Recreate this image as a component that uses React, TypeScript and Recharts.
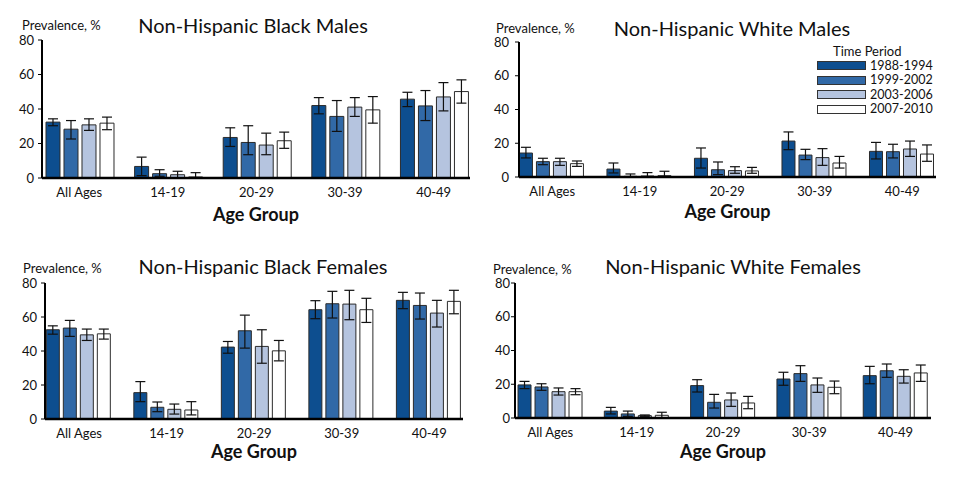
import React from 'react';
import { BarChart, Bar, XAxis, YAxis, ErrorBar, Legend } from 'recharts';

const ageGroups = ['All Ages', '14-19', '20-29', '30-39', '40-49'];
const periods = ['1988-1994', '1999-2002', '2003-2006', '2007-2010'];
const periodColors = ['#0d4e8f', '#3169a7', '#b5c4df', '#ffffff'];
const yTicks = [0, 20, 40, 60, 80];

// Non-Hispanic Black Males (rows = periods, columns = age groups)
const blackMalesValue = [
  [32.4, 6.7, 23.5, 42.0, 45.7],
  [28.3, 2.5, 20.6, 35.7, 41.8],
  [30.8, 1.9, 19.1, 41.1, 47.0],
  [31.8, 0.6, 21.6, 39.5, 50.1],
];
const blackMalesLow = [
  [30.3, 1.4, 18.3, 37.2, 41.4],
  [22.6, 1.0, 13.5, 27.0, 33.3],
  [27.6, 0.0, 13.5, 35.7, 38.9],
  [28.0, 0.0, 17.2, 31.8, 43.4],
];
const blackMalesHigh = [
  [34.3, 12.1, 29.1, 46.6, 49.7],
  [33.3, 4.8, 30.3, 44.9, 50.7],
  [34.3, 3.9, 26.0, 46.6, 55.3],
  [35.3, 3.1, 26.6, 47.2, 56.9],
];

// Non-Hispanic White Males
const whiteMalesValue = [
  [14.2, 4.7, 11.1, 21.3, 15.2],
  [9.1, 0.4, 4.3, 13.0, 15.0],
  [9.1, 0.6, 3.8, 11.5, 16.6],
  [7.9, 0.8, 3.6, 8.3, 13.6],
];
const whiteMalesLow = [
  [11.3, 2.4, 5.3, 16.2, 10.7],
  [7.3, 0.0, 1.4, 10.3, 11.3],
  [6.9, 0.0, 2.2, 6.9, 12.2],
  [6.3, 0.0, 2.2, 5.3, 9.3],
];
const whiteMalesHigh = [
  [17.6, 8.3, 17.2, 26.7, 20.5],
  [11.1, 1.8, 8.9, 16.4, 19.4],
  [11.1, 2.6, 6.1, 16.8, 21.3],
  [9.5, 3.4, 5.7, 12.2, 19.0],
];

// Non-Hispanic Black Females
const blackFemalesValue = [
  [52.5, 15.5, 42.3, 64.3, 69.8],
  [53.5, 6.9, 51.9, 67.8, 66.8],
  [49.5, 5.7, 42.7, 67.6, 62.3],
  [50.1, 5.3, 40.1, 64.3, 69.2],
];
const blackFemalesLow = [
  [49.9, 10.2, 38.7, 59.0, 64.9],
  [48.6, 4.3, 41.7, 59.4, 58.8],
  [46.2, 2.9, 32.8, 58.4, 54.1],
  [47.0, 2.4, 34.2, 56.8, 61.9],
];
const blackFemalesHigh = [
  [54.8, 22.0, 45.6, 69.6, 74.5],
  [58.0, 10.0, 61.1, 75.1, 74.1],
  [52.9, 8.8, 52.5, 75.7, 69.8],
  [52.9, 10.2, 46.2, 71.0, 75.7],
];

// Non-Hispanic White Females
const whiteFemalesValue = [
  [19.6, 4.1, 19.2, 23.1, 25.1],
  [18.4, 2.4, 9.3, 26.3, 28.0],
  [15.6, 1.4, 10.7, 19.6, 24.7],
  [15.6, 1.6, 8.9, 18.2, 26.7],
];
const whiteFemalesLow = [
  [17.4, 2.4, 15.4, 19.4, 20.3],
  [16.4, 1.0, 5.9, 21.7, 24.1],
  [13.6, 1.0, 6.9, 15.2, 20.7],
  [13.8, 0.0, 5.5, 14.4, 21.7],
];
const whiteFemalesHigh = [
  [21.7, 6.3, 22.7, 27.1, 30.6],
  [20.3, 4.1, 14.0, 31.0, 32.0],
  [17.8, 1.8, 14.8, 23.7, 28.6],
  [17.4, 3.4, 12.8, 21.9, 31.4],
];

const FONT = 'Lato, "Open Sans", sans-serif';

function buildRows(values: number[][], lows: number[][], highs: number[][]) {
  return ageGroups.map((age, i) => {
    const row: any = { idx: i, age };
    periods.forEach((_, p) => {
      const v = values[p][i];
      row['p' + p] = v;
      row['e' + p] = [v - lows[p][i], highs[p][i] - v];
    });
    return row;
  });
}

const LegendBox = (props: any) => {
  const payload = props.payload || [];
  return (
    <div style={{ fontFamily: FONT, color: '#111' }}>
      <div style={{ fontSize: 13, marginLeft: 16, lineHeight: '15px', height: 15 }}>
        Time Period
      </div>
      {payload.map((entry: any) => (
        <div key={entry.value} style={{ display: 'flex', alignItems: 'center', height: 14.5 }}>
          <div
            style={{
              width: 47,
              height: 7,
              background: entry.color,
              border: '1px solid #333',
              marginRight: 4,
              flex: 'none',
            }}
          />
          <div style={{ fontSize: 12.5, lineHeight: '12px', height: 12, whiteSpace: 'nowrap' }}>
            {entry.value}
          </div>
        </div>
      ))}
    </div>
  );
};

type PanelProps = {
  title: string;
  values: number[][];
  lows: number[][];
  highs: number[][];
  left: number;
  top: number;
  width: number;
  height: number;
  margin: { top: number; right: number; bottom: number; left: number };
  xDomain: [number, number];
  titleX: number;
  titleY: number;
  prevX: number;
  prevY: number;
  labelOffset: number;
  yTickMargin: number;
  legend?: boolean;
};

const Panel = (p: PanelProps) => {
  const rows = buildRows(p.values, p.lows, p.highs);
  return (
    <div style={{ position: 'absolute', left: p.left, top: p.top, width: p.width, height: p.height }}>
      <div
        style={{
          position: 'absolute',
          left: p.titleX - 200,
          width: 400,
          top: p.titleY - 12,
          textAlign: 'center',
          fontFamily: FONT,
          fontSize: 20,
          lineHeight: '24px',
          color: '#111',
          whiteSpace: 'nowrap',
        }}
      >
        {p.title}
      </div>
      <div
        style={{
          position: 'absolute',
          left: p.prevX,
          top: p.prevY - 5.5,
          fontFamily: FONT,
          fontSize: 13,
          lineHeight: '11px',
          height: 11,
          color: '#111',
          whiteSpace: 'nowrap',
        }}
      >
        Prevalence, %
      </div>
      <BarChart
        width={p.width}
        height={p.height}
        data={rows}
        margin={p.margin}
        barCategoryGap="12.5%"
        barGap={4}
        style={{ position: 'absolute', left: 0, top: 0 }}
      >
        <XAxis
          dataKey="idx"
          type="number"
          domain={p.xDomain}
          ticks={[0, 1, 2, 3, 4]}
          allowDataOverflow
          tickFormatter={(v: number) => ageGroups[v] ?? ''}
          interval={0}
          height={46}
          tickLine={false}
          tickMargin={4}
          axisLine={{ stroke: '#000', strokeWidth: 2.5 }}
          tick={{ fill: '#111', fontSize: 13, fontFamily: FONT }}
          label={{
            value: 'Age Group',
            position: 'insideBottom',
            offset: p.labelOffset,
            style: { fontFamily: FONT, fontWeight: 700, fontSize: 18, fill: '#111' },
          }}
        />
        <YAxis
          type="number"
          domain={[0, 80]}
          ticks={yTicks}
          width={30}
          tickSize={4}
          tickMargin={p.yTickMargin}
          axisLine={{ stroke: '#000', strokeWidth: 2 }}
          tickLine={{ stroke: '#000' }}
          tick={{ fill: '#111', fontSize: 13, fontFamily: FONT }}
        />
        {p.legend && (
          <Legend
            layout="vertical"
            align="center"
            verticalAlign="middle"
            content={<LegendBox />}
            wrapperStyle={{ left: 337, top: 43.5, width: 140 }}
          />
        )}
        {periods.map((name, i) => (
          <Bar
            key={name}
            dataKey={'p' + i}
            name={name}
            fill={periodColors[i]}
            stroke="#2b2b2b"
            strokeWidth={1}
            isAnimationActive={false}
          >
            <ErrorBar dataKey={'e' + i} width={5} stroke="#111" strokeWidth={1.2} direction="y" />
          </Bar>
        ))}
      </BarChart>
    </div>
  );
};

export default function App() {
  return (
    <div
      style={{
        position: 'absolute',
        left: 0,
        top: 0,
        width: 960,
        height: 493,
        background: '#fff',
        overflow: 'hidden',
      }}
    >
      <Panel
        title="Non-Hispanic Black Males"
        values={blackMalesValue}
        lows={blackMalesLow}
        highs={blackMalesHigh}
        left={0}
        top={0}
        width={480}
        height={235}
        margin={{ top: 40, right: 10, bottom: 11, left: 12 }}
        xDomain={[-0.42, 4.41]}
        titleX={253}
        titleY={25}
        prevX={22}
        prevY={25}
        labelOffset={3}
        yTickMargin={4}
      />
      <Panel
        title="Non-Hispanic White Males"
        values={whiteMalesValue}
        lows={whiteMalesLow}
        highs={whiteMalesHigh}
        left={480}
        top={0}
        width={480}
        height={235}
        margin={{ top: 42, right: 24, bottom: 12, left: 9 }}
        xDomain={[-0.38, 4.385]}
        titleX={252}
        titleY={28}
        prevX={16}
        prevY={28}
        labelOffset={5}
        yTickMargin={6}
        legend
      />
      <Panel
        title="Non-Hispanic Black Females"
        values={blackFemalesValue}
        lows={blackFemalesLow}
        highs={blackFemalesHigh}
        left={0}
        top={240}
        width={480}
        height={240}
        margin={{ top: 43, right: 17, bottom: 15, left: 15 }}
        xDomain={[-0.39, 4.386]}
        titleX={263}
        titleY={26}
        prevX={23}
        prevY={28}
        labelOffset={7}
        yTickMargin={4}
      />
      <Panel
        title="Non-Hispanic White Females"
        values={whiteFemalesValue}
        lows={whiteFemalesLow}
        highs={whiteFemalesHigh}
        left={480}
        top={240}
        width={480}
        height={240}
        margin={{ top: 43, right: 29, bottom: 16, left: 5 }}
        xDomain={[-0.41, 4.41]}
        titleX={253}
        titleY={26}
        prevX={13}
        prevY={29}
        labelOffset={6}
        yTickMargin={1}
      />
    </div>
  );
}
